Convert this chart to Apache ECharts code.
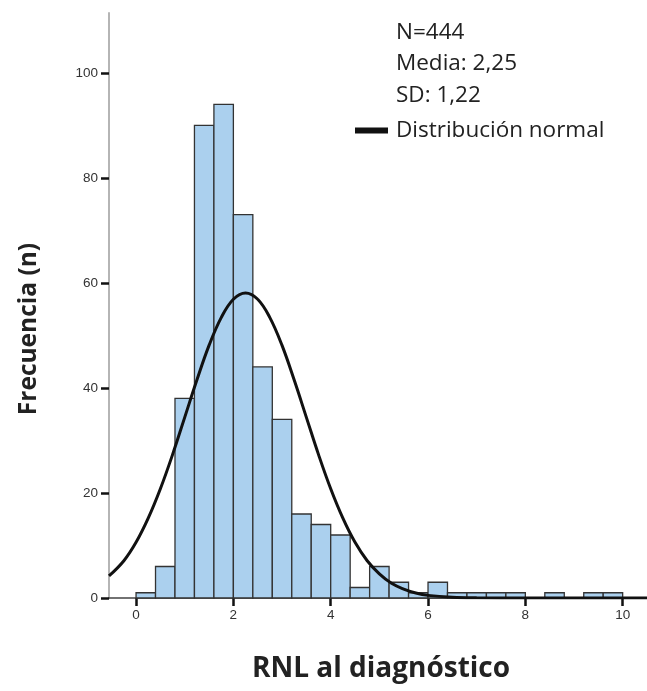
<!DOCTYPE html>
<html>
<head>
<meta charset="utf-8">
<script src="https://cdn.jsdelivr.net/npm/echarts@6/dist/echarts.min.js"></script>
<style>
html,body{margin:0;padding:0;background:#fff;}
#chart{width:647px;height:691px;}
</style>
</head>
<body>
<div id="chart"></div>
<script>
// Histogram bins (start, end) and counts
const binStarts = [0,0.4,0.8,1.2,1.6,2.0,2.4,2.8,3.2,3.6,4.0,4.4,4.8,5.2,5.6,6.0,6.4,6.8,7.2,7.6,8.0,8.4,8.8,9.2,9.6];
const binWidth = 0.4;
const counts = [1,6,38,90,94,73,44,34,16,14,12,2,6,3,1,3,1,1,1,1,0,1,0,1,1];

// Normal curve points
const curveX = [-0.556,-0.25,0,0.25,0.5,0.75,1.0,1.25,1.5,1.75,2.0,2.25,2.5,2.75,3.0,3.25,3.5,3.75,4.0,4.25,4.5,4.75,5.0,5.25,5.5,5.75,6.0,6.5,7.0,8.0,9.0,10.0,10.5];
const curveY = [4.2,7.1,10.6,15.2,20.8,27.3,34.4,41.5,48.1,53.4,56.9,58.1,56.9,53.4,48.1,41.5,34.4,27.3,20.8,15.2,10.6,7.1,4.6,2.8,1.7,0.95,0.5,0.13,0.03,0,0,0,0];

const xTicks = [0,2,4,6,8,10];
const yTicks = [0,20,40,60,80,100];
const statsLines = ['N=444','Media: 2,25','SD: 1,22'];
const xTitle = 'RNL al diagnóstico';
const yTitle = 'Frecuencia (n)';
const curveName = 'Distribución normal';

const X_MIN = -0.556, X_MAX = 10.5, Y_MIN = 0, Y_MAX = 111.4;

const barData = binStarts.map((s,i)=>[s, s+binWidth, counts[i]]).filter(d=>d[2]>0);
const curveData = curveX.map((x,i)=>[x, curveY[i]]);

const chart = echarts.init(document.getElementById('chart'), null, {renderer:'canvas'});
const labelFont = 'Liberation Sans, Arial, sans-serif';
const titleFont = '"Open Sans", "Noto Sans", sans-serif';

chart.setOption({
  animation:false,
  backgroundColor:'#fff',
  grid:{left:109, top:13, right:0, bottom:93, containLabel:false},
  xAxis:{
    type:'value', min:X_MIN, max:X_MAX,
    splitLine:{show:false},
    axisLine:{show:true, onZero:false, lineStyle:{color:'#444', width:1.5}},
    axisTick:{show:true, length:8, customValues:xTicks, lineStyle:{color:'#111', width:2.5}},
    axisLabel:{customValues:xTicks, color:'#333', fontSize:13.5, fontFamily:labelFont, margin:10}
  },
  yAxis:{
    type:'value', min:Y_MIN, max:Y_MAX,
    splitLine:{show:false},
    axisLine:{show:true, onZero:false, lineStyle:{color:'#b5b5b5', width:2}},
    axisTick:{show:true, length:8, customValues:yTicks, lineStyle:{color:'#111', width:2.5}},
    axisLabel:{customValues:yTicks, color:'#333', fontSize:13.5, fontFamily:labelFont, margin:11}
  },
  legend:{
    show:true, left:350, top:114, orient:'vertical',
    itemWidth:33, itemHeight:6, itemGap:8,
    textStyle:{fontSize:22.5, color:'#222', fontFamily:titleFont, padding:[0,0,0,3]},
    data:[{name:curveName, icon:'rect', itemStyle:{color:'#111'}}]
  },
  graphic: statsLines.map((t,i)=>({
    type:'text', x:396, y:32.5+i*31.5,
    style:{text:t, fontSize:22.5, fill:'#222', fontFamily:titleFont, verticalAlign:'middle'}
  })).concat([
    {type:'text', x:381, y:669,
     style:{text:xTitle, fontSize:28, fontWeight:'bold', fill:'#222', fontFamily:titleFont, align:'center', verticalAlign:'middle'}},
    {type:'text', x:29, y:329, rotation:Math.PI/2,
     style:{text:yTitle, fontSize:24.5, fontWeight:'bold', fill:'#222', fontFamily:titleFont, align:'center', verticalAlign:'middle'}}
  ]),
  series:[
    {
      type:'custom', name:'Histograma',
      data:barData,
      encode:{x:[0,1], y:2},
      renderItem:function(params, api){
        const p0 = api.coord([api.value(0), api.value(2)]);
        const p1 = api.coord([api.value(1), 0]);
        return {
          type:'rect',
          shape:{x:p0[0], y:p0[1], width:p1[0]-p0[0], height:p1[1]-p0[1]},
          style:{fill:'#abd0ee', stroke:'#333', lineWidth:1.3}
        };
      },
      z:2
    },
    {
      type:'line', name:curveName,
      data:curveData, smooth:0.4, showSymbol:false,
      lineStyle:{color:'#111', width:3},
      itemStyle:{color:'#111'},
      z:3
    }
  ]
});
</script>
</body>
</html>
